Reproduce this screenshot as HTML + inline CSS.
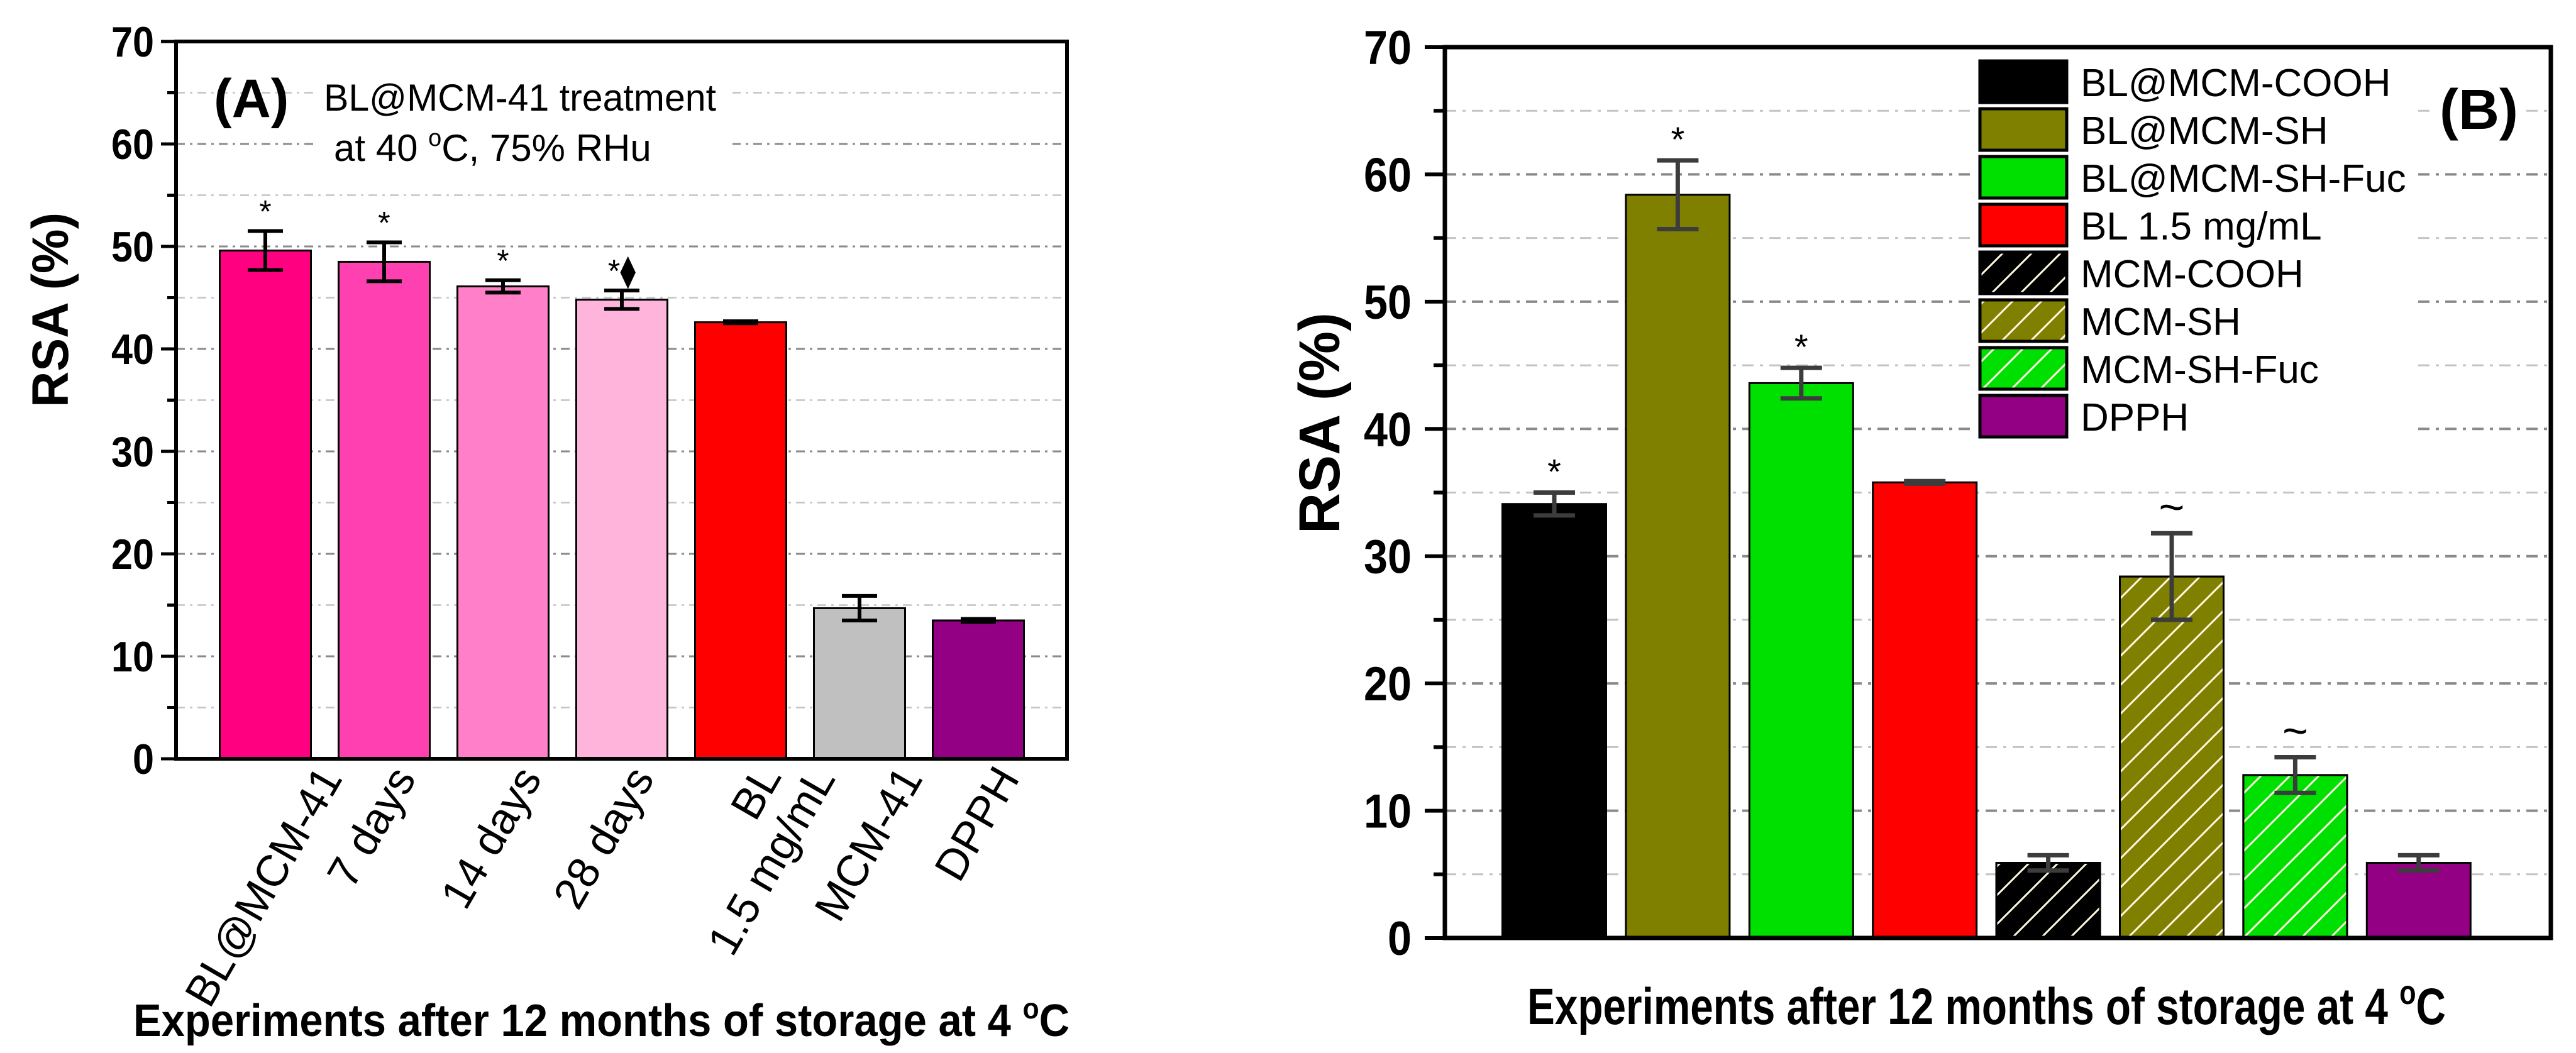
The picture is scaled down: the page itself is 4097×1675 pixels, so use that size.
<!DOCTYPE html>
<html><head><meta charset="utf-8"><style>
html,body{margin:0;padding:0;background:#fff;}
svg{display:block;font-family:"Liberation Sans",Arial,sans-serif;}
</style></head><body>
<svg id="fig" width="4097" height="1675" viewBox="0 0 4097 1675" xmlns="http://www.w3.org/2000/svg">
<defs>
<pattern id="hatch" patternUnits="userSpaceOnUse" width="46" height="46">
<path d="M-12,58 L58,-12 M-35,35 L35,-35 M11,81 L81,11" stroke="#fff8e0" stroke-width="3"/>
</pattern>
</defs>
<g id="chartA"></g>
<g id="chartB"></g>
</svg>
<script>
// ---------- Data: chart A ----------
const catsA = ["BL@MCM-41","7 days","14 days","28 days","BL|1.5 mg/mL","MCM-41","DPPH"];
const valsA = [49.6, 48.5, 46.1, 44.8, 42.6, 14.7, 13.5];
const errsA = [1.9, 1.9, 0.6, 0.9, 0.1, 1.2, 0.15];
const marksA = ["*","*","*","*\u29EB","","",""];
const colorsA = ["#ff0080","#ff40b0","#ff7fc8","#ffb4dc","#ff0000","#c0c0c0","#930083"];
// ---------- Data: chart B ----------
const catsB = ["BL@MCM-COOH","BL@MCM-SH","BL@MCM-SH-Fuc","BL 1.5 mg/mL","MCM-COOH","MCM-SH","MCM-SH-Fuc","DPPH"];
const valsB = [34.1, 58.4, 43.6, 35.8, 5.9, 28.4, 12.8, 5.9];
const errsB = [0.9, 2.7, 1.2, 0.1, 0.6, 3.4, 1.4, 0.6];
const marksB = ["*","*","*","","","~","~",""];
const colorsB = ["#000000","#808000","#00e000","#ff0000","#000000","#808000","#00e000","#930083"];
const hatchB = [false,false,false,false,true,true,true,false];
const yTicks = [0,10,20,30,40,50,60,70];

const NS="http://www.w3.org/2000/svg";
function mk(parent, tag, attrs, text){
  const e=document.createElementNS(NS,tag);
  for(const k in attrs) e.setAttribute(k,attrs[k]);
  if(text!==undefined) e.textContent=text;
  parent.appendChild(e); return e;
}

// ---------- Chart A ----------
(function(){
  const g=document.getElementById('chartA');
  const L=280,R=1697,T=66,B=1207,ymax=70;
  const y=v=>B-(v/ymax)*(B-T);
  const pitch=189, w=145, x0=422;
  const cx=i=>x0+i*pitch;
  for(let v=5;v<70;v+=5){
    const ln=mk(g,'line',{x1:L,x2:R,y1:y(v),y2:y(v),stroke:v%10===0?'#8a8a8a':'#c4c4c4','stroke-width':v%10===0?3:2.5,'stroke-dasharray':'14 8 4 8'});
    
    
  }
  const wb=mk(g,'rect',{x:502,y:100,width:663,height:175,fill:'#fff'});
  
  
  valsA.forEach((v,i)=>{
    const r=mk(g,'rect',{x:cx(i)-w/2,y:y(v),width:w,height:B-y(v),fill:colorsA[i],stroke:'#000','stroke-width':3});
    
    
    const e=errsA[i], c=cx(i);
    const eb=mk(g,'path',{d:`M${c},${y(v+e)}V${y(v-e)}M${c-28},${y(v+e)}H${c+28}M${c-28},${y(v-e)}H${c+28}`,stroke:'#000','stroke-width':6,fill:'none'});
    
    
    if(marksA[i]){
      const t=mk(g,'text',{x:c,y:y(v+e)-14,'font-size':50,'text-anchor':'middle'},marksA[i]);
      
      
    }
  });
  const fr=mk(g,'rect',{x:L,y:T,width:R-L,height:B-T,fill:'none',stroke:'#000','stroke-width':6});
  
  
  for(let v=0;v<=70;v+=5){
    const maj=v%10===0;
    const tk=mk(g,'line',{x1:maj?256:266,x2:L,y1:y(v),y2:y(v),stroke:'#000','stroke-width':5});
    
    
  }
  yTicks.forEach(v=>{
    const t=mk(g,'text',{x:245,y:y(v)+24,'font-size':68,'font-weight':'bold','text-anchor':'end',textLength:String(v).length*34,lengthAdjust:'spacingAndGlyphs'},String(v));
    
    
  });
  const dxs=[84,12,23,13,112,62,27];
  catsA.forEach((c,i)=>{
    const gg=mk(g,'g',{transform:`translate(${cx(i)+dxs[i]+40},${1238}) rotate(-60)`});
    
    
    const parts=c.split('|');
    if(parts.length===1){ mk(gg,'text',{x:0,y:0,'font-size':70,'text-anchor':'end'},parts[0]); }
    else {
      mk(gg,'text',{x:-40,y:-76,'font-size':70,'text-anchor':'end'},parts[0]);
      mk(gg,'text',{x:0,y:0,'font-size':70,'text-anchor':'end'},parts[1]);
    }
  });
  const yt=mk(g,'text',{x:0,y:0,transform:'translate(108,493) rotate(-90)','font-size':82,'font-weight':'bold','text-anchor':'middle',textLength:310,lengthAdjust:'spacingAndGlyphs'},'RSA (%)');
  
  
  const xt=mk(g,'text',{x:212,y:1648,'font-size':72,'font-weight':'bold',textLength:1489,lengthAdjust:'spacingAndGlyphs'});
  
  
  xt.innerHTML='Experiments after 12 months of storage at 4 <tspan dy="-28" font-size="46">o</tspan><tspan dy="28">C</tspan>';
  const pa=mk(g,'text',{x:340,y:186,'font-size':86,'font-weight':'bold'},'(A)');
  
  
  const a1=mk(g,'text',{x:515,y:176,'font-size':60,textLength:624,lengthAdjust:'spacingAndGlyphs'},'BL@MCM-41 treatment');
  
  
  const a2=mk(g,'text',{x:531,y:256,'font-size':60});
  
  
  a2.innerHTML='at 40 <tspan dy="-24" font-size="38">o</tspan><tspan dy="24">C, 75% RHu</tspan>';
})();

// ---------- Chart B ----------
(function(){
  const g=document.getElementById('chartB');
  const L=2298,R=4057,T=75,B=1492,ymax=70;
  const y=v=>B-(v/ymax)*(B-T);
  const pitch=196.4, w=165, x0=2472;
  const cx=i=>x0+i*pitch;
  for(let v=5;v<70;v+=5){
    const ln=mk(g,'line',{x1:L,x2:R,y1:y(v),y2:y(v),stroke:v%10===0?'#8a8a8a':'#c4c4c4','stroke-width':v%10===0?4:3,'stroke-dasharray':'18 10 5 10'});
    
    
  }
  const lb=mk(g,'rect',{x:3138,y:86,width:702,height:620,fill:'#fff'});
  
  
  const pb=mk(g,'rect',{x:3870,y:120,width:148,height:110,fill:'#fff'});
  
  
  valsB.forEach((v,i)=>{
    const c=cx(i);
    const r=mk(g,'rect',{x:c-w/2,y:y(v),width:w,height:B-y(v),fill:colorsB[i],stroke:'#000','stroke-width':3});
    
    
    if(hatchB[i]){
      const h=mk(g,'rect',{x:c-w/2,y:y(v),width:w,height:B-y(v),fill:'url(#hatch)',stroke:'#000','stroke-width':3});
      
      
    }
    const e=errsB[i];
    const eb=mk(g,'path',{d:`M${c},${y(v+e)}V${y(v-e)}M${c-33},${y(v+e)}H${c+33}M${c-33},${y(v-e)}H${c+33}`,stroke:'#3c3c3c','stroke-width':7,fill:'none'});
    
    
    if(marksB[i]){
      const t=mk(g,'text',{x:c,y:y(v+e)-(marksB[i]==='~'?18:14),'font-size':marksB[i]==='~'?70:56,'text-anchor':'middle'},marksB[i]);
      
      
    }
  });
  const fr=mk(g,'rect',{x:L,y:T,width:R-L,height:B-T,fill:'none',stroke:'#000','stroke-width':7});
  
  
  for(let v=0;v<=70;v+=5){
    const maj=v%10===0;
    const tk=mk(g,'line',{x1:maj?2266:2280,x2:L,y1:y(v),y2:y(v),stroke:'#000','stroke-width':6});
    
    
  }
  yTicks.forEach(v=>{
    const t=mk(g,'text',{x:2245,y:y(v)+27,'font-size':76,'font-weight':'bold','text-anchor':'end',textLength:String(v).length*38,lengthAdjust:'spacingAndGlyphs'},String(v));
    
    
  });
  catsB.forEach((c,i)=>{
    const ty=95+i*76;
    const sw=mk(g,'rect',{x:3149,y:ty+2,width:138,height:66,fill:colorsB[i],stroke:'#000','stroke-width':5});
    
    
    if(hatchB[i]){
      const h=mk(g,'rect',{x:3149,y:ty+2,width:138,height:66,fill:'url(#hatch)',stroke:'#000','stroke-width':5});
      
      
    }
    const t=mk(g,'text',{x:3309,y:ty+58,'font-size':62},c);
    
    
  });
  const pl=mk(g,'text',{x:3880,y:205,'font-size':90,'font-weight':'bold'},'(B)');
  
  
  const yt=mk(g,'text',{x:0,y:0,transform:'translate(2130,673) rotate(-90)','font-size':92,'font-weight':'bold','text-anchor':'middle',textLength:352,lengthAdjust:'spacingAndGlyphs'},'RSA (%)');
  
  
  const xt=mk(g,'text',{x:2429,y:1629,'font-size':82,'font-weight':'bold',textLength:1461,lengthAdjust:'spacingAndGlyphs'});
  
  
  xt.innerHTML='Experiments after 12 months of storage at 4 <tspan dy="-32" font-size="54">o</tspan><tspan dy="32">C</tspan>';
})();
</script>
</body></html>
